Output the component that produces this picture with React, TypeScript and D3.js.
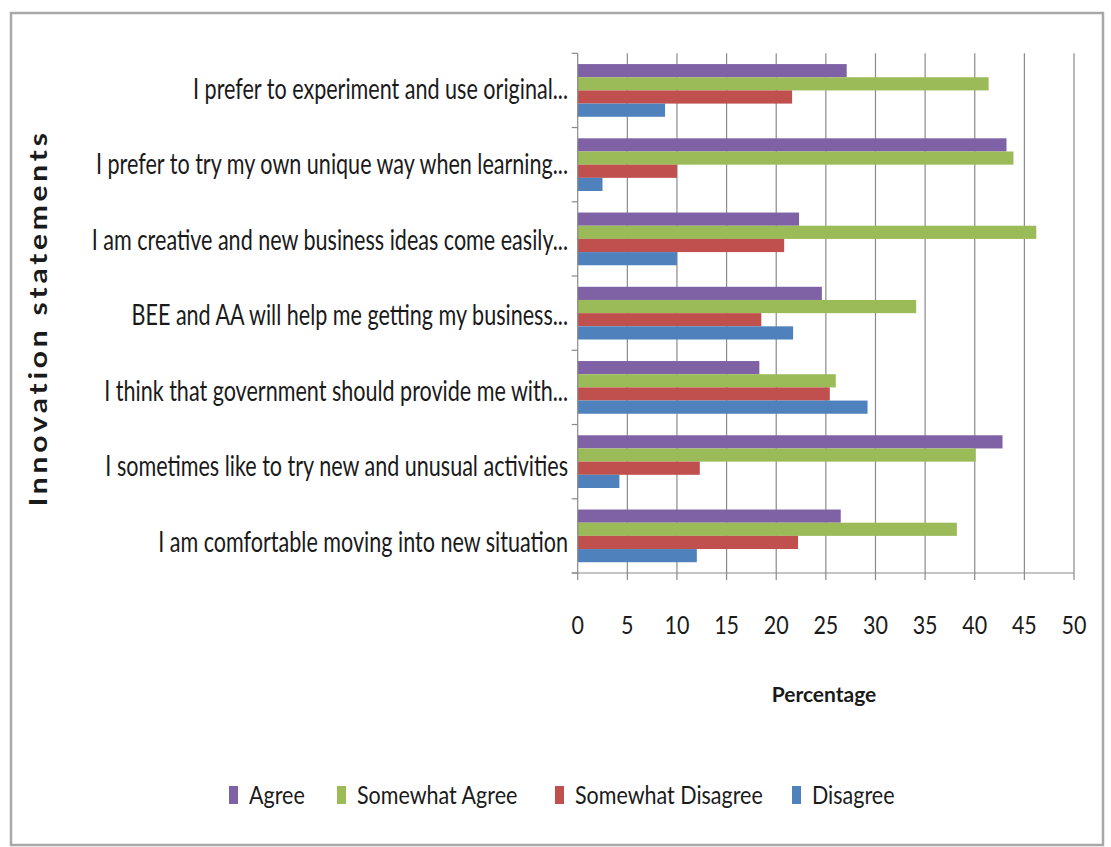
import React, { useEffect } from "react";
import * as d3 from "d3";

const categories = [
  "I prefer to experiment and use original...",
  "I prefer to try my own unique way when learning...",
  "I am creative and new business ideas come easily...",
  "BEE and AA will help me getting my business...",
  "I think that government should provide me with...",
  "I sometimes like to try new and unusual activities",
  "I am comfortable moving into new situation",
];

const seriesNames = ["Agree", "Somewhat Agree", "Somewhat Disagree", "Disagree"];
const seriesColors = ["#7f62a6", "#9bbb59", "#c0504d", "#4f81bd"];

const agree = [27.1, 43.2, 22.3, 24.6, 18.3, 42.8, 26.5];
const somewhatAgree = [41.4, 43.9, 46.2, 34.1, 26.0, 40.1, 38.2];
const somewhatDisagree = [21.6, 10.0, 20.8, 18.5, 25.4, 12.3, 22.2];
const disagree = [8.8, 2.5, 10.0, 21.7, 29.2, 4.2, 12.0];

const xTicks = [0, 5, 10, 15, 20, 25, 30, 35, 40, 45, 50];

const seriesValues = [agree, somewhatAgree, somewhatDisagree, disagree];

const W = 1111;
const H = 847;
const plotLeft = 577.7;
const plotRight = 1074;
const plotTop = 53.3;
const plotBottom = 573;
const FONT = "Lato, 'Open Sans', sans-serif";
const axisColor = "#8a8a8a";

export default function App() {
  useEffect(() => {
    document.body.style.margin = "0";
  }, []);

  const x = d3.scaleLinear().domain([0, 50]).range([plotLeft, plotRight]);
  const y = d3
    .scaleBand<string>()
    .domain(categories)
    .range([plotTop, plotBottom])
    .paddingInner(0.29)
    .paddingOuter(0.145);
  const ySub = d3
    .scaleBand<string>()
    .domain(seriesNames)
    .range([0, y.bandwidth()]);
  const yLabel = d3.scalePoint<string>().domain(categories).range([88.5, 542]);
  const step = y.step();
  const boundaries = d3.range(categories.length + 1).map((i) => plotTop + i * step);

  const legendX = [229, 337, 555, 792];

  return (
    <svg width={W} height={H} style={{ display: "block", background: "#fff" }}>
      <rect x={11} y={13} width={1092} height={832} fill="#fff" stroke="#a8a8a8" strokeWidth={2.5} />

      {/* gridlines */}
      {xTicks.slice(1).map((t) => (
        <line key={"g" + t} x1={x(t)} x2={x(t)} y1={plotTop} y2={plotBottom} stroke={axisColor} strokeWidth={1.2} />
      ))}

      {/* bars */}
      {categories.map((c, ci) => (
        <g key={c} transform={`translate(0,${y(c)})`}>
          {seriesNames.map((s, si) => (
            <rect
              key={s}
              x={x(0)}
              y={ySub(s)}
              width={x(seriesValues[si][ci]) - x(0)}
              height={ySub.bandwidth()}
              fill={seriesColors[si]}
            />
          ))}
        </g>
      ))}

      {/* y axis */}
      <line x1={plotLeft} x2={plotLeft} y1={plotTop} y2={plotBottom} stroke={axisColor} strokeWidth={1.2} />
      {boundaries.map((b, i) => (
        <line key={"yt" + i} x1={plotLeft - 6} x2={plotLeft} y1={b} y2={b} stroke={axisColor} strokeWidth={1.2} />
      ))}

      {/* x axis */}
      <line x1={plotLeft - 6} x2={plotRight} y1={plotBottom} y2={plotBottom} stroke={axisColor} strokeWidth={1.2} />
      {xTicks.map((t) => (
        <line key={"xt" + t} x1={x(t)} x2={x(t)} y1={plotBottom} y2={plotBottom + 7} stroke={axisColor} strokeWidth={1.2} />
      ))}
      {xTicks.map((t) => (
        <g key={"xl" + t} transform={`translate(${x(t)},634) scale(0.86,1)`}>
          <text textAnchor="middle" fontFamily={FONT} fontSize={25} fill="#1a1a1a">
            {t}
          </text>
        </g>
      ))}
      <text x={824} y={702} textAnchor="middle" fontFamily={FONT} fontSize={21} fontWeight="bold" fill="#1a1a1a">
        Percentage
      </text>

      {/* category labels */}
      {categories.map((c) => (
        <g key={"cl" + c} transform={`translate(568,${(yLabel(c) as number) + 10}) scale(0.77,1)`}>
          <text textAnchor="end" fontFamily={FONT} fontSize={28} fill="#1a1a1a">
            {c}
          </text>
        </g>
      ))}

      {/* y title */}
      <g transform={`translate(47,318) rotate(-90) scale(1.25,1)`}>
        <text
          textAnchor="middle"
          fontFamily={FONT}
          fontSize={24}
          fontWeight="bold"
          letterSpacing={3}
          fill="#1a1a1a"
        >
          Innovation statements
        </text>
      </g>

      {/* legend */}
      {seriesNames.map((s, i) => (
        <g key={"lg" + s} transform={`translate(${legendX[i]},0)`}>
          <rect x={0} y={786} width={9} height={18} fill={seriesColors[i]} />
          <g transform={`translate(20,804) scale(0.86,1)`}>
            <text fontFamily={FONT} fontSize={25} fill="#1a1a1a">
              {s}
            </text>
          </g>
        </g>
      ))}
    </svg>
  );
}
